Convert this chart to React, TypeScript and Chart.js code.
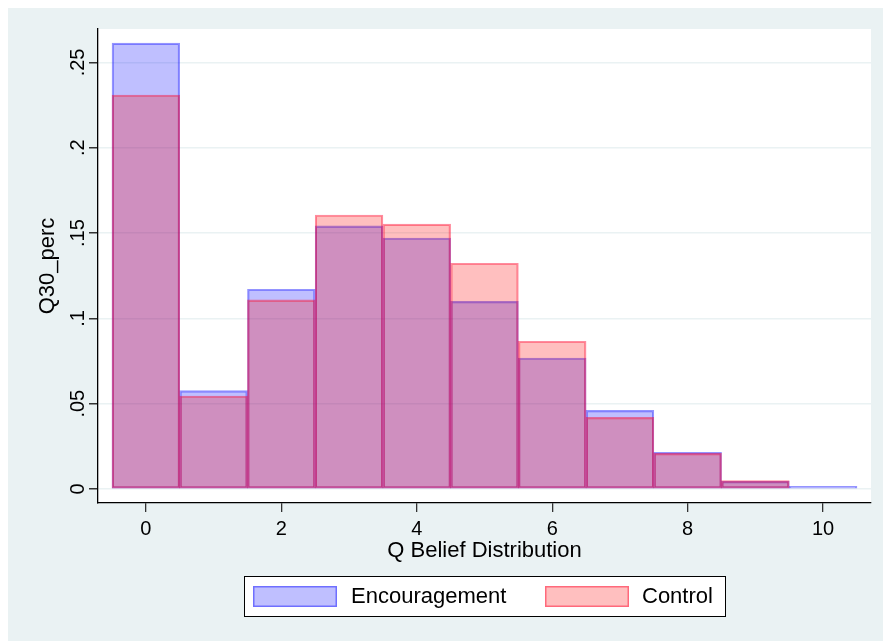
import React, { useEffect, useRef } from "react";
import { Chart, registerables } from "chart.js";
Chart.register(...registerables);

const bins = [0, 1, 2, 3, 4, 5, 6, 7, 8, 9, 10];
const encouragement = [0.2613, 0.0577, 0.1171, 0.1542, 0.1471, 0.11, 0.0768, 0.0461, 0.0215, 0.0045, 0.0016];
const control: (number | null)[] = [0.2309, 0.0545, 0.1108, 0.1606, 0.1552, 0.1323, 0.0866, 0.042, 0.0209, 0.0049, null];
const xTicks = [0, 2, 4, 6, 8, 10];
const yTicks = [0, 0.05, 0.1, 0.15, 0.2, 0.25];
const yTickLabels = ["0", ".05", ".1", ".15", ".2", ".25"];
const seriesNames = ["Encouragement", "Control"];
const xTitle = "Q Belief Distribution";
const yTitle = "Q30_perc";

const BG = "rgb(234,242,243)";
const FONT = "'Liberation Sans', Arial, Helvetica, sans-serif";
const FS = 22;
const TFS = 20;
const blueFill = "rgba(0,0,255,0.25)";
const blueLine = "rgba(0,0,255,0.42)";
const redFill = "rgba(255,0,0,0.25)";
const redLine = "rgba(255,0,40,0.45)";

const stataPlugin = {
  id: "stataLook",
  beforeDraw(chart: any) {
    const { ctx, width, height, chartArea } = chart;
    ctx.save();
    ctx.fillStyle = BG;
    ctx.fillRect(0, 0, width, height);
    ctx.fillStyle = "#ffffff";
    ctx.fillRect(chartArea.left, chartArea.top, chartArea.right - chartArea.left, chartArea.bottom - chartArea.top);
    ctx.restore();
  },
  afterDraw(chart: any) {
    const { ctx } = chart;
    const ys = chart.scales.y;
    ctx.save();
    ctx.fillStyle = "#000";
    ctx.font = `${TFS}px ${FONT}`;
    ctx.textAlign = "center";
    ctx.textBaseline = "middle";
    yTicks.forEach((v, i) => {
      const py = ys.getPixelForValue(v);
      ctx.save();
      ctx.translate(70, py);
      ctx.rotate(-Math.PI / 2);
      ctx.fillText(yTickLabels[i], 0, 0);
      ctx.restore();
    });
    const L = { x: 236, y: 568, w: 481, h: 40 };
    ctx.fillStyle = "#fff";
    ctx.fillRect(L.x, L.y, L.w, L.h);
    ctx.strokeStyle = "#000";
    ctx.lineWidth = 1;
    ctx.strokeRect(L.x + 0.5, L.y + 0.5, L.w, L.h);
    const items = [
      { name: seriesNames[0], fill: blueFill, line: blueLine, sx: 245, tx: 343 },
      { name: seriesNames[1], fill: redFill, line: redLine, sx: 537, tx: 634 },
    ];
    items.forEach((it) => {
      ctx.fillStyle = it.fill;
      ctx.fillRect(it.sx, 578, 84, 21);
      ctx.strokeStyle = it.line;
      ctx.lineWidth = 1.5;
      ctx.strokeRect(it.sx + 0.75, 578.75, 82.5, 19.5);
      ctx.fillStyle = "#000";
      ctx.textAlign = "left";
      ctx.textBaseline = "middle";
      ctx.font = `${FS}px ${FONT}`;
      ctx.fillText(it.name, it.tx, 589);
    });
    ctx.restore();
  },
};

export default function App() {
  const ref = useRef<HTMLCanvasElement | null>(null);
  useEffect(() => {
    if (!ref.current) return;
    const chart = new Chart(ref.current, {
      type: "bar",
      data: {
        datasets: [
          {
            label: seriesNames[0],
            data: bins.map((b, i) => ({ x: b, y: encouragement[i] })),
            backgroundColor: blueFill,
            borderColor: blueLine,
            borderWidth: 1.5,
            borderSkipped: false,
            categoryPercentage: 1,
            barPercentage: 1,
            grouped: false,
            order: 2,
          },
          {
            label: seriesNames[1],
            data: bins.map((b, i) => ({ x: b, y: control[i] })),
            backgroundColor: redFill,
            borderColor: redLine,
            borderWidth: 1.5,
            borderSkipped: false,
            categoryPercentage: 1,
            barPercentage: 1,
            grouped: false,
            order: 1,
          },
        ],
      } as any,
      options: {
        animation: false,
        responsive: false,
        maintainAspectRatio: false,
        layout: { padding: { left: 27, top: 21, right: 12, bottom: 76.8 } },
        plugins: { legend: { display: false }, tooltip: { enabled: false }, title: { display: false } },
        scales: {
          x: {
            type: "linear",
            min: -0.707,
            max: 10.707,
            offset: false,
            afterBuildTicks: (s: any) => {
              s.ticks = xTicks.map((v) => ({ value: v }));
            },
            afterFit: (s: any) => {
              s.height = 61.2;
            },
            grid: { display: true, drawOnChartArea: false, drawTicks: true, tickLength: 9, tickColor: "#333", offset: false, lineWidth: 1.3 },
            border: { display: true, color: "#000", width: 1.3 },
            ticks: { color: "#000", font: { family: FONT, size: TFS }, padding: 5.5, maxRotation: 0, autoSkip: false },
            title: { display: true, text: xTitle, color: "#000", font: { family: FONT, size: FS }, padding: 0 },
          },
          y: {
            type: "linear",
            min: -0.0082,
            max: 0.2696,
            afterBuildTicks: (s: any) => {
              s.ticks = yTicks.map((v) => ({ value: v }));
            },
            afterFit: (s: any) => {
              s.width = 90 - 27;
            },
            grid: { display: true, drawOnChartArea: true, drawTicks: true, tickLength: 9, color: BG, tickColor: "#333", lineWidth: 1.5 },
            border: { display: true, color: "#000", width: 1.3 },
            ticks: { display: false },
            title: { display: true, text: yTitle, color: "#000", font: { family: FONT, size: FS }, padding: 0 },
          },
        },
      } as any,
      plugins: [stataPlugin],
    });
    return () => chart.destroy();
  }, []);
  return (
    <div style={{ position: "absolute", left: 8, top: 8, width: 875, height: 633 }}>
      <canvas ref={ref} width={875} height={633} style={{ display: "block", width: 875, height: 633 }} />
    </div>
  );
}
